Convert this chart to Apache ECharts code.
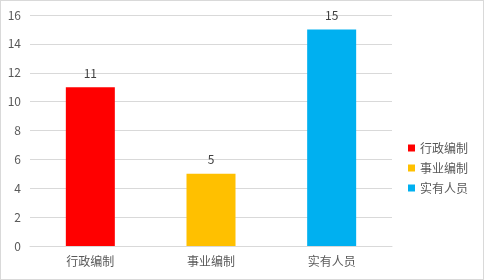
<!DOCTYPE html>
<html><head><meta charset="utf-8">
<script src="https://cdn.jsdelivr.net/npm/echarts@6/dist/echarts.min.js"></script>
<style>html,body{margin:0;padding:0;background:#fff}#c{width:482px;height:278px;border:1px solid #d9d9d9;}</style>
</head><body><div id="c"></div>
<script>
const categories = ['行政编制','事业编制','实有人员'];
const values = [11, 5, 15];
const colors = ['#FF0000','#FFC000','#00B0F0'];
const yTicks = [0,2,4,6,8,10,12,14,16];

const font = '"Noto Sans CJK SC", "Noto Sans", sans-serif';
const chart = echarts.init(document.getElementById('c'));
const series = categories.map((name, i) => ({
  name: name,
  type: 'bar',
  stack: 'all',
  barWidth: 49,
  data: categories.map((c, j) => j === i ? values[i] : '-'),
  itemStyle: { color: colors[i] },
  label: { show: true, position: 'top', distance: 8, color: '#404040', fontSize: 12, fontFamily: font }
}));
chart.setOption({
  animation: false,
  grid: { left: 29, right: 91, top: 14, bottom: 33 },
  legend: {
    orient: 'vertical', left: 402, top: 136,
    itemWidth: 7, itemHeight: 7, itemGap: 8, icon: 'rect',
    textStyle: { color: '#595959', fontSize: 12, fontFamily: font },
    data: categories
  },
  xAxis: {
    type: 'category', data: categories,
    axisLine: { lineStyle: { color: '#d9d9d9' } },
    axisTick: { show: false },
    axisLabel: { color: '#595959', fontSize: 12, fontFamily: font, margin: 9 }
  },
  yAxis: {
    type: 'value', min: yTicks[0], max: yTicks[yTicks.length-1], interval: 2,
    axisLine: { show: false }, axisTick: { show: false },
    splitLine: { lineStyle: { color: '#d9d9d9' } },
    axisLabel: { color: '#595959', fontSize: 12, fontFamily: font, margin: 9 }
  },
  series: series
});
</script></body></html>
